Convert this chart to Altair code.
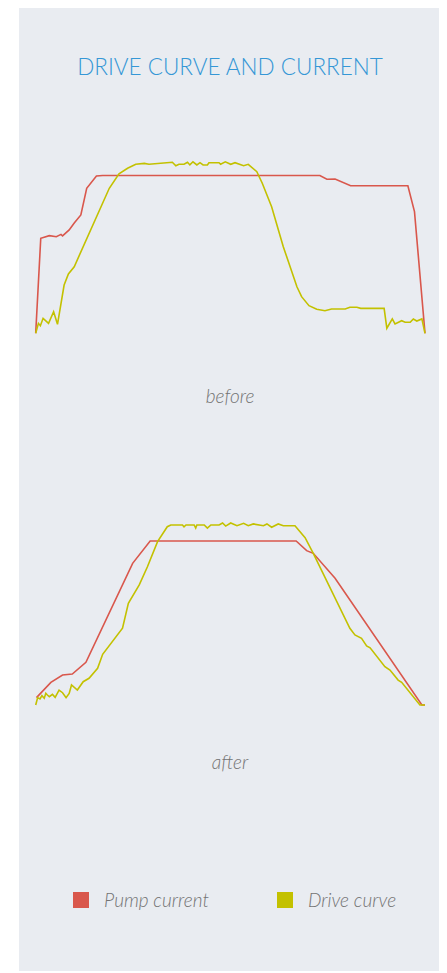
import altair as alt
import pandas as pd

series_names = ["Pump current", "Drive curve"]
series_colors = ["#d9574c", "#c3c100"]

# before
before_pump_x = [0, 1.3, 3.5, 5.3, 6.5, 6.9, 8.6, 9.9, 11.6, 13.1, 15.6, 17.2, 73.0, 74.8, 76.9, 80.9, 95.6, 97.3, 100]
before_pump_y = [0, 60.2, 61.9, 61.2, 62.7, 61.7, 65.5, 69.9, 75.0, 91.9, 99.7, 100, 100, 97.6, 97.8, 93.5, 93.5, 77.1, 0]

before_drive_x = [0, 0.7, 1.2, 1.9, 3.3, 4.6, 5.6, 7.3, 8.4, 9.9, 18.9, 21.4, 23.6, 25.7, 27.9, 29.1, 35.1, 36.0,
                  36.8, 38.1, 39.0, 39.6, 40.4, 41.4, 42.2, 43.0, 44.1, 44.5, 47.1, 47.5, 48.7, 50.1, 51.2, 53.4,
                  54.6, 56.8, 58.2, 60.6, 63.6, 67.1, 68.3, 70.2, 72.2, 74.3, 76.0, 79.5, 80.7, 82.5, 83.5, 89.5,
                  90.2, 91.6, 92.3, 94.0, 94.9, 96.2, 97.0, 97.9, 99.2, 100]
before_drive_y = [0, 6.3, 4.8, 9.5, 6.3, 13.7, 5.7, 30.6, 37.6, 42.2, 91.9, 101.0, 104.6, 107.1, 107.7, 107.1, 108.4, 106.2,
                  107.1, 107.1, 108.4, 106.7, 108.7, 106.7, 108.1, 106.7, 106.7, 108.1, 108.1, 107.1, 108.7, 107.1, 108.1, 106.2,
                  107.1, 102.4, 95.1, 80.2, 54.9, 29.5, 23.2, 17.5, 15.2, 14.3, 15.4, 15.4, 16.5, 16.5, 15.8, 15.8,
                  3.2, 9.1, 5.9, 8.0, 7.0, 7.0, 9.1, 7.8, 9.1, 0]

# after
after_pump_x = [0.2, 3.9, 6.9, 9.4, 12.9, 24.9, 29.4, 66.9, 69.6, 71.3, 76.9, 99.2, 100]
after_pump_y = [4.5, 13.8, 18.3, 18.9, 26.0, 86.4, 100, 100, 94.1, 92.5, 77.3, 0, 0]

after_drive_x = [0, 0.5, 1.1, 1.6, 2.2, 2.6, 3.0, 3.5, 4.3, 5.0, 6.0, 6.9, 7.8, 8.6, 9.2, 10.7, 12.2, 13.7, 15.9,
                 17.2, 22.3, 23.8, 26.6, 28.7, 31.3, 33.8, 34.7, 37.7, 38.1, 38.6, 40.7, 41.1, 41.4, 43.3, 44.1,
                 45.0, 47.1, 48.0, 48.8, 50.1, 51.7, 53.4, 54.6, 55.9, 58.5, 59.4, 60.6, 62.3, 63.6, 66.6, 69.2,
                 71.3, 80.7, 82.0, 83.7, 85.0, 85.9, 89.7, 91.0, 93.1, 94.0, 98.7, 100]
after_drive_y = [0, 4.5, 3.7, 5.7, 4.1, 7.1, 6.1, 5.1, 6.5, 4.7, 9.1, 7.5, 4.5, 7.1, 12.2, 9.1, 14.2, 16.3, 22.4,
                 30.9, 46.8, 62.0, 73.2, 84.3, 99.6, 108.7, 109.8, 109.8, 108.7, 109.8, 109.8, 107.9, 109.8, 109.8, 107.9,
                 109.8, 109.8, 111.0, 109.1, 111.0, 109.3, 110.8, 109.3, 110.4, 109.3, 110.4, 108.4, 110.4, 109.3, 109.3, 102.0,
                 92.5, 46.8, 42.7, 40.7, 36.0, 34.9, 23.4, 21.3, 15.2, 13.8, 0, 0]


def frame(px, py, dx, dy):
    rows = []
    for i, (a, b) in enumerate(zip(px, py)):
        rows.append({"t": a, "v": b, "series": series_names[0], "o": i})
    for i, (a, b) in enumerate(zip(dx, dy)):
        rows.append({"t": a, "v": b, "series": series_names[1], "o": i})
    return pd.DataFrame(rows)


df_before = frame(before_pump_x, before_pump_y, before_drive_x, before_drive_y)
df_after = frame(after_pump_x, after_pump_y, after_drive_x, after_drive_y)

W, H = 431, 963
BG = "#e9ecf1"
FONT = "Lato"

color_scale = alt.Scale(domain=series_names, range=series_colors)
x_scale = alt.Scale(domain=[0, 100], range=[27.7, 417])

one = pd.DataFrame({"k": [0]})

bg = alt.Chart(one).mark_rect(color=BG).encode(
    x=alt.value(11), x2=alt.value(W), y=alt.value(0), y2=alt.value(H)
)

title = alt.Chart(one).mark_text(
    text="DRIVE CURVE AND CURRENT", font=FONT, fontSize=22.5, fontWeight=300, color="#3597d6",
    align="center", baseline="alphabetic"
).encode(x=alt.value(222), y=alt.value(67))


def lines(df, rng):
    return alt.Chart(df).mark_line(strokeWidth=1.6).encode(
        x=alt.X("t:Q", scale=x_scale, axis=None),
        y=alt.Y("v:Q", scale=alt.Scale(domain=[0, 100], range=rng), axis=None),
        color=alt.Color("series:N", scale=color_scale, legend=None),
        order="o:Q",
    )


before = lines(df_before, [325.3, 167.5])
after = lines(df_after, [697, 533])


def label(txt, x, y, align="center"):
    return alt.Chart(one).mark_text(
        text=txt, font=FONT, fontSize=19, fontStyle="italic", fontWeight=300, color="#737373",
        align=align, baseline="alphabetic"
    ).encode(x=alt.value(x), y=alt.value(y))


lab_before = label("before", 222, 395)
lab_after = label("after", 222, 761)

leg_red = alt.Chart(pd.DataFrame({"series": [series_names[0]]})).mark_square(size=256, opacity=1).encode(
    x=alt.value(73), y=alt.value(892), color=alt.Color("series:N", scale=color_scale, legend=None)
)
leg_yel = alt.Chart(pd.DataFrame({"series": [series_names[1]]})).mark_square(size=256, opacity=1).encode(
    x=alt.value(277), y=alt.value(892), color=alt.Color("series:N", scale=color_scale, legend=None)
)
leg_t1 = label(series_names[0], 96, 899, "left")
leg_t2 = label(series_names[1], 300, 899, "left")

chart = alt.layer(
    bg, title, before, after, lab_before, lab_after, leg_red, leg_yel, leg_t1, leg_t2
).resolve_scale(y="independent").properties(
    width=W, height=H, autosize=alt.AutoSizeParams(type="none"), padding=0, background="white"
).configure_view(stroke=None)

chart.save("out.html", embed_options={"renderer": "svg", "actions": False})
